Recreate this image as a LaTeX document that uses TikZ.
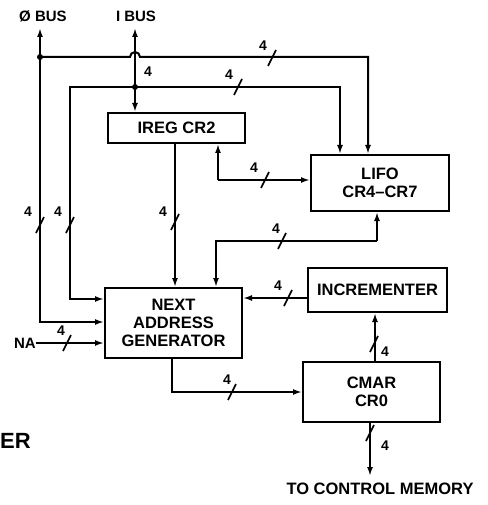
\documentclass[tikz,border=0pt]{standalone}
\usepackage{fontspec}
\setmainfont{Liberation Sans}
\usetikzlibrary{arrows.meta}
\tikzset{
  box/.style={draw, line width=2pt, inner sep=0pt, align=center, font=\fontsize{16.5}{18}\selectfont\bfseries},
  wire/.style={line width=2pt},
  tip/.style={-{Latex[length=9pt,width=6pt]}},
  lbl/.style={font=\fontsize{14}{16}\selectfont\bfseries, inner sep=0pt},
  dotj/.style={fill, circle, inner sep=0pt, minimum size=6pt},
}
\newcommand{\bslash}[2]{\draw[line width=1.6pt] (#1-4,#2+8) -- (#1+4,#2-8);}
\begin{document}
\begin{tikzpicture}[x=1pt,y=-1pt]
\useasboundingbox (0,0) rectangle (487,505);
% boxes
\node[box, minimum width=137pt, minimum height=30pt] (ireg) at (176.5,128) {IREG CR2};
\node[box, minimum width=138pt, minimum height=56pt] (lifo) at (380,183) {LIFO\\CR4--CR7};
\node[box, minimum width=137pt, minimum height=70pt] (nag) at (173.5,323) {NEXT\\ADDRESS\\GENERATOR};
\node[box, minimum width=139pt, minimum height=44pt] (inc) at (377.5,290) {INCREMENTER};
\node[box, minimum width=137pt, minimum height=60pt] (cmar) at (371.5,392) {CMAR\\CR0};
% labels
\node[lbl, font=\fontsize{15}{17}\selectfont\bfseries] (phil) at (43,16) {Ø BUS};
\node[lbl, font=\fontsize{15}{17}\selectfont\bfseries] (ibl) at (136,16) {I BUS};
\node[lbl, font=\fontsize{15}{17}\selectfont\bfseries, anchor=east] (na) at (36,343) {NA};
\node[lbl, font=\fontsize{16.5}{18}\selectfont\bfseries] (mem) at (380,489) {TO CONTROL MEMORY};
\node[lbl, font=\fontsize{22}{24}\selectfont\bfseries, anchor=west] (er) at (0,441) {ER};
% coordinates
\coordinate (phitop) at (40,28);
\coordinate (phid) at (40,57);
\coordinate (ibtop) at (135,28);
\coordinate (ibd) at (135,87);
\coordinate (memend) at (370,476);
% phi bus
\draw[wire, tip] (phid) -- (phitop);
\draw[wire, tip] (phid) -- (40,322) -- (nag.west |- 0,322);
\draw[wire, tip] (phid) -- (130,57) arc[start angle=180, end angle=360, radius=5] -- (368,57) -- (368,0 |- lifo.north);
\node[dotj] (phidot) at (phid) {};
% I bus
\draw[wire, tip] (ibd) -- (ibtop);
\draw[wire, tip] (ibd) -- (ireg.north -| ibd);
\draw[wire, tip] (ibd) -- (70,87) -- (70,299) -- (nag.west |- 0,299);
\draw[wire, tip] (ibd) -- (340,87) -- (340,0 |- lifo.north);
\node[dotj] (ibdot) at (ibd) {};
% ireg -> nag
\draw[wire, tip] (175,0 |- ireg.south) -- (175,0 |- nag.north);
% ireg <-> lifo
\draw[wire, tip] (218,180) -- (218,0 |- ireg.south);
\draw[wire, tip] (218,180) -- (lifo.west |- 0,180);
% lifo <-> nag
\draw[wire, tip] (377,241) -- (377,0 |- lifo.south);
\draw[wire, tip] (377,241) -- (216,241) -- (216,0 |- nag.north);
% inc -> nag
\draw[wire, tip] (inc.west |- 0,298) -- (nag.east |- 0,298);
% NA -> nag
\draw[wire, tip] (na.east) -- (nag.west |- na.east);
% nag -> cmar
\draw[wire, tip] (172,0 |- nag.south) -- (172,392) -- (cmar.west |- 0,392);
% cmar -> inc
\draw[wire, tip] (375,0 |- cmar.north) -- (375,0 |- inc.south);
% cmar -> memory
\draw[wire, tip] (370,0 |- cmar.south) -- (memend);
% bus width marks
\bslash{272}{58} \node[lbl] (l1) at (263,46) {4};
\bslash{238}{87} \node[lbl] (l2) at (229,75) {4};
\node[lbl] (l3) at (148,72) {4};
\bslash{40}{225} \node[lbl] (l4) at (28,212) {4};
\bslash{70}{225} \node[lbl] (l5) at (58,212) {4};
\bslash{175}{222} \node[lbl] (l6) at (163,212) {4};
\bslash{265}{180} \node[lbl] (l7) at (254,168) {4};
\bslash{282}{241} \node[lbl] (l8) at (276,229) {4};
\bslash{288}{298} \node[lbl] (l9) at (278,286) {4};
\bslash{67}{343} \node[lbl] (l10) at (61,331) {4};
\bslash{232}{392} \node[lbl] (l11) at (227,380) {4};
\bslash{374}{344} \node[lbl] (l12) at (385,352) {4};
\bslash{370}{433} \node[lbl] (l13) at (385,446) {4};
\end{tikzpicture}
\end{document}
